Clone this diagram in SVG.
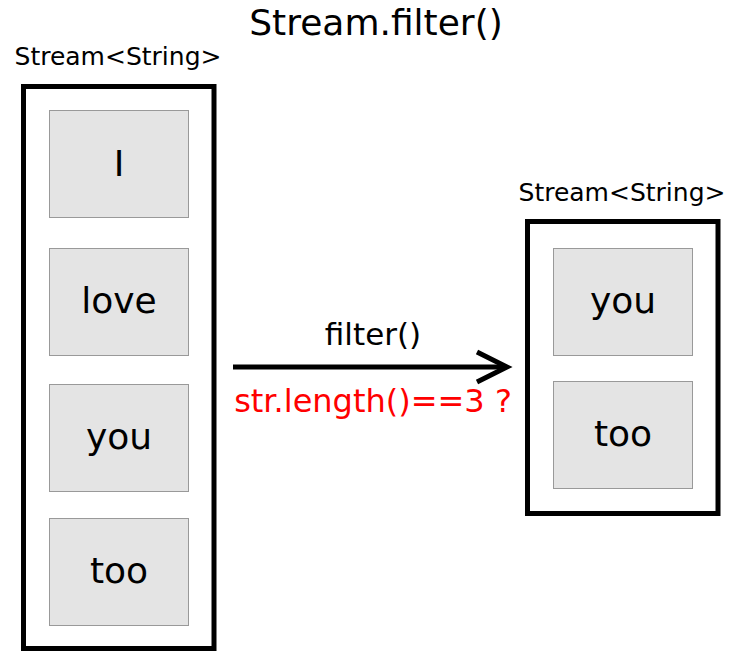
<svg xmlns="http://www.w3.org/2000/svg" width="742" height="655" viewBox="0 0 742 655">
<style>
text{font-family:"DejaVu Sans","Liberation Sans",sans-serif;fill:#000}
.outer{fill:none;stroke:#000;stroke-width:5}
.item{fill:#e4e4e4;stroke:#999;stroke-width:1}
.it{font-size:36px;text-anchor:middle}
.lbl{font-size:25px;text-anchor:middle}
</style>
<rect width="742" height="655" fill="#fff"/>
<text x="376" y="35" style="font-size:36px;text-anchor:middle">Stream.filter()</text>
<g id="src">
<text class="lbl" x="118" y="65">Stream&lt;String&gt;</text>
<rect class="outer" x="23.5" y="86.5" width="190.5" height="562"/>
</g>
<g id="src-I"><rect class="item" x="49.5" y="110.5" width="139" height="107"/><text class="it" x="119" y="176">I</text></g>
<g id="src-love"><rect class="item" x="49.5" y="248.5" width="139" height="107"/><text class="it" x="119" y="313">love</text></g>
<g id="src-you"><rect class="item" x="49.5" y="384.5" width="139" height="107"/><text class="it" x="119" y="449">you</text></g>
<g id="src-too"><rect class="item" x="49.5" y="518.5" width="139" height="107"/><text class="it" x="119" y="583">too</text></g>
<g id="dst">
<text class="lbl" x="622" y="201">Stream&lt;String&gt;</text>
<rect class="outer" x="527.5" y="221.5" width="190.5" height="292"/>
</g>
<g id="dst-you"><rect class="item" x="553.5" y="248.5" width="139" height="107"/><text class="it" x="623" y="313">you</text></g>
<g id="dst-too"><rect class="item" x="553.5" y="381.5" width="139" height="107"/><text class="it" x="623" y="446">too</text></g>
<g id="connectors">
<line x1="233" y1="367" x2="505" y2="367" stroke="#000" stroke-width="5"/>
<polyline points="477,352 507,367 477,382" fill="none" stroke="#000" stroke-width="5"/>
<text x="373" y="345" style="font-size:31px;text-anchor:middle">filter()</text>
<text x="373" y="412" style="font-size:32px;text-anchor:middle;fill:#f00">str.length()==3 ?</text>
</g>
</svg>
